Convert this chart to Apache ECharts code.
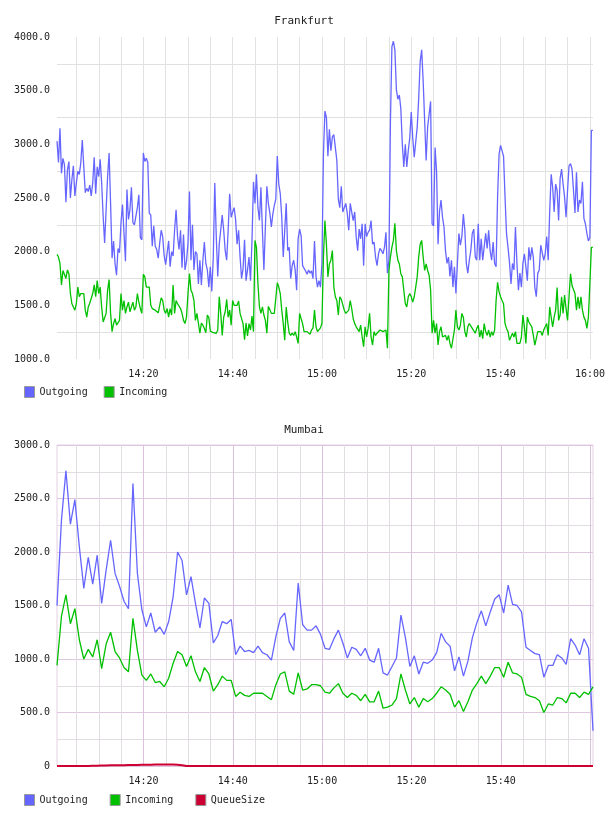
<!DOCTYPE html>
<html>
<head>
<meta charset="utf-8">
<title>Frankfurt / Mumbai</title>
<script src="https://cdn.jsdelivr.net/npm/echarts@6/dist/echarts.min.js"></script>
<style>
html, body { margin: 0; padding: 0; background: #fff; }
#chart { width: 608px; height: 816px; }
</style>
</head>
<body>
<div id="chart"></div>
<script>
// first sample of both charts is 14:00:39, window is two hours
var startClock = [14, 0, 39];
var windowMinutes = 120;
var frankfurtStepSec = 20;
var mumbaiStepSec = 60;

var frankfurtRange = [1000, 4000];
var mumbaiRange = [0, 3000];

var frankfurtOutgoing = [
    3030,2830,3150,2730,2870,2810,2460,2760,2840,2500,
    2670,2800,2520,2640,2750,2720,2830,3040,2790,2550,
    2590,2560,2620,2520,2640,2880,2540,2790,2700,2860,
    2640,2330,2080,2390,2700,2920,2450,1940,2100,1890,
    1780,2030,1990,2270,2440,2450,1910,2580,2300,2390,
    2600,2270,2250,2240,2410,2530,2130,2110,2920,2840,
    2870,2830,2360,2340,2050,2240,2050,2020,1940,2080,
    2200,2140,1960,1880,1880,2100,1860,2000,1960,2200,
    2390,2140,2020,2200,1850,2160,1830,1910,2080,2560,
    1920,2250,1830,2000,1980,1700,1920,1690,1920,2090,
    1890,1830,1670,1860,1630,1950,2640,2140,1770,2070,
    2200,2340,2200,2010,1920,2200,2540,2320,2370,2410,
    2300,2070,2200,1950,1750,1840,2110,1730,1830,1950,
    1730,2100,2650,2450,2720,2410,2290,2600,2200,1830,
    2230,2610,2450,2360,2230,2350,2430,2490,2890,2630,
    2540,2320,1950,2200,2450,2010,2040,1750,1870,1920,
    1830,1640,2120,2210,2150,1870,1870,1820,1790,1830,
    1800,1820,1750,2100,1770,1670,1730,1670,1890,2910,
    3310,3250,2890,3140,2940,3070,3090,2970,2850,2490,
    2410,2610,2370,2370,2450,2360,2200,2450,2460,2290,
    2370,2140,2010,2210,2120,2260,1870,2260,2140,2180,
    2200,2290,2070,2090,1950,1870,1980,2030,2010,1980,
    2040,2180,1800,1920,3200,3910,3960,3880,3510,3420,
    3460,3330,3000,2790,3000,2790,2940,3060,3300,3060,
    2880,3020,3160,3430,3770,3880,3590,3220,2850,3160,
    3280,3400,2260,2240,2970,2750,2070,2380,2480,2320,
    2230,2010,1890,1950,1770,1920,1670,1860,1610,1890,
    2170,2060,2140,2350,2200,1890,1800,1920,2010,2170,
    2210,1950,1920,2260,1920,2120,1920,1920,2170,2030,
    2200,2010,1920,2090,1890,1860,2510,2910,2990,2990,
    2890,2510,2170,2040,1900,1700,1890,1830,2230,1890,
    1640,1800,1670,1890,1980,1860,1730,2040,1920,2040,
    1950,1670,1580,1800,1830,2060,2070,1920,1980,2140,
    1920,2370,2720,2600,2370,2630,2570,2290,2680,2770,
    2630,2510,2320,2570,2800,2820,2770,2570,2360,2740,
    2370,2480,2450,2650,2310,2260,2170,2100,2130,3130,
    3130
];

var frankfurtIncoming = [
    1975,1950,1890,1690,1825,1840,1750,1830,1795,1610,
    1515,1485,1455,1515,1670,1580,1610,1625,1610,1455,
    1390,1485,1520,1530,1610,1690,1580,1730,1610,1670,
    1485,1345,1345,1425,1640,1740,1425,1255,1330,1375,
    1315,1330,1360,1610,1455,1545,1425,1485,1530,1440,
    1485,1530,1455,1485,1610,1530,1470,1425,1790,1765,
    1670,1655,1670,1500,1470,1485,1455,1460,1430,1425,
    1570,1545,1455,1425,1470,1390,1470,1410,1690,1425,
    1545,1515,1515,1470,1425,1360,1330,1390,1610,1795,
    1640,1610,1545,
    1360,1425,1440,1240,1335,1315,1285,1245,1410,1385,
    1260,1270,1245,1255,1240,1270,1580,1425,1220,1390,
    1440,1555,1390,1455,1315,1545,1500,1490,1500,1540,
    1425,1410,1330,1180,1335,1215,1330,1270,1400,1255,
    2105,2040,1700,1485,1425,1485,1410,1360,1240,1490,
    1460,1425,1410,1425,1410,1710,1670,1610,1455,1330,
    1175,1485,1345,1240,1220,1240,1220,1255,1205,1145,
    1425,1375,1330,1255,1240,1255,1255,1230,1270,1290,
    1455,1300,1255,1255,1290,1330,1950,2290,2070,1765,
    1885,
    1920,2010,1670,1580,1545,1410,1580,1555,1540,1455,
    1425,1430,1455,1545,1470,1375,1330,1300,1285,1255,
    1315,1205,1115,1300,1205,1285,1425,1205,1130,1255,
    1220,1240,1255,1270,1275,1255,1240,1270,1100,1825,
    1950,2040,2105,2265,2010,1920,1885,1795,1765,1640,
    1515,1485,1580,1610,1580,1530,1580,1670,1765,1950,
    2070,2105,1950,1825,1885,1825,1780,1640,1240,1360,
    1240,1330,1130,1255,1300,1205,1220,1220,1175,1220,
    1145,1100,1115,1270,1455,1300,1270,1315,1425,1390,
    1255,1205,1300,1330,1345,1285,1270,1240,1285,1315,
    1205,1270,1190,1330,1255,1220,1270,1205,1255,1220,
    1270,1545,1715,1625,1580,1545,1515,1330,1285,1255,
    1175,1180,1240,1205,1255,1145,1130,1145,1205,1410,
    1300,1145,1390,1345,1330,1300,1220,1130,1190,1255,
    1270,1255,1220,1270,1285,1330,1220,1485,1390,1300,
    1390,1455,1665,1360,1410,1580,1425,1595,1470,1360,
    1580,1795,1685,1670,1610,1455,1580,1470,1580,1455,
    1390,1360,1285,1390,1700,2040,2040
];

var mumbaiOutgoing = [
    1500,2300,2760,2260,2490,2050,1660,1950,1700,1970,
    1520,1830,2110,1800,1680,1540,1470,2640,1800,1460,
    1300,1430,1250,1300,1230,1350,1580,2000,1920,1600,
    1770,1520,1290,1570,1520,1150,1220,1350,1330,1370,
    1040,1120,1070,1080,1060,1120,1060,1040,990,1210,
    1380,1430,1160,1080,1710,1320,1270,1270,1310,1230,
    1100,
    1090,1190,1270,1150,1010,1110,1090,1030,1100,990,
    970,1100,870,850,930,1010,1410,1200,930,1030,
    860,970,960,990,1060,1240,1160,1120,890,1020,
    840,980,1200,1340,1450,1310,1440,1560,1600,1430,
    1690,1510,1500,1440,1110,1080,1050,1040,830,940,
    940,1040,1010,950,1190,1130,1040,1190,1100,330
];

var mumbaiIncoming = [
    940,1400,1600,1330,1470,1180,1000,1090,1020,1180,
    910,1140,1250,1070,1010,920,880,1380,1080,850,
    800,860,780,790,740,820,960,1070,1040,930,
    1030,880,790,920,860,700,760,840,800,800,
    650,690,660,650,680,680,680,650,620,760,
    860,880,700,670,870,710,720,760,760,750,
    690,
    680,730,770,680,640,680,660,610,670,600,
    600,700,540,550,570,630,860,710,580,640,
    550,630,600,630,680,740,710,670,550,610,
    510,600,710,770,840,770,840,920,920,830,
    970,870,860,830,670,650,640,610,500,580,
    570,640,630,590,680,680,640,690,670,740
];

var mumbaiQueueSize = [
    0,0,0,0,0,0,0,0,2,3,
    4,5,6,7,8,8,9,10,10,11,
    12,12,13,13,14,14,14,12,6,0,
    0,0,0,0,0,0,0,0,0,0,
    0,0,0,0,0,0,0,0,0,0,
    0,0,0,0,0,0,0,0,0,0,
    0,0,0,0,0,0,0,0,0,0,
    0,0,0,0,0,0,0,0,0,0,
    0,0,0,0,0,0,0,0,0,0,
    0,0,0,0,0,0,0,0,0,0,
    0,0,0,0,0,0,0,0,0,0,
    0,0,0,0,0,0,0,0,0,0,
    0
];

var font = 'DejaVu Sans Mono';
var textColor = '#222';
var blue = '#6666ff', green = '#00c000', red = '#cc0033';
var t0 = new Date(2024, 0, 1, startClock[0], startClock[1], startClock[2]).getTime();
var t1 = t0 + windowMinutes * 60000;

function points(values, stepSec) {
    return values.map(function (v, i) { return [t0 + i * stepSec * 1000, v]; });
}

function pad(n) { return ('0' + n).slice(-2); }

// label only the 20 minute marks
function clockLabel(skipLast) {
    return function (v) {
        var d = new Date(v);
        if (d.getSeconds() !== 0 || d.getMinutes() % 20 !== 0) return '';
        if (skipLast && v > t1 - 60000) return '';
        return pad(d.getHours()) + ':' + pad(d.getMinutes());
    };
}

function valueLabel(v) {
    if (v % 500 !== 0) return '';
    return v === 0 ? '0' : v.toFixed(1);
}

function timeAxis(gridIndex, minutes, lineColor, labels, skipLast) {
    return {
        type: 'time', gridIndex: gridIndex, min: t0, max: t1,
        minInterval: minutes * 66000, maxInterval: minutes * 66000,
        axisLine: { show: false }, axisTick: { show: false },
        axisLabel: {
            show: labels, formatter: clockLabel(skipLast), margin: 10,
            fontFamily: font, fontSize: 10, color: textColor, hideOverlap: false
        },
        // no lines on the window edges, those are not on the clock grid
        splitLine: { show: true, showMinLine: false, showMaxLine: false,
                     lineStyle: { color: lineColor, width: 1 } }
    };
}

function valueAxis(gridIndex, range, colors) {
    return {
        type: 'value', gridIndex: gridIndex, min: range[0], max: range[1], interval: 250,
        axisLine: { show: false }, axisTick: { show: false },
        axisLabel: { formatter: valueLabel, margin: 7, fontFamily: font, fontSize: 10, color: textColor },
        splitLine: { show: true, lineStyle: { color: colors, width: 1 } }
    };
}

function line(name, data, color, x, y, w) {
    return {
        name: name, type: 'line', xAxisIndex: x, yAxisIndex: y, data: data,
        showSymbol: false, symbol: 'none', silent: true,
        lineStyle: { color: color, width: w || 1.3 }, itemStyle: { color: color }
    };
}

var legendText = { fontFamily: font, fontSize: 10, color: textColor };

var chart = echarts.init(document.getElementById('chart'));
chart.setOption({
    animation: false,
    title: [
        { text: 'Frankfurt', left: 'center', top: 16, padding: 0,
          textStyle: { fontFamily: font, fontSize: 11, fontWeight: 'normal', color: textColor } },
        { text: 'Mumbai', left: 'center', top: 425, padding: 0,
          textStyle: { fontFamily: font, fontSize: 11, fontWeight: 'normal', color: textColor } }
    ],
    legend: [
        { data: ['Outgoing', 'Incoming'], left: 24, top: 386, padding: 0, icon: 'rect',
          itemWidth: 10, itemHeight: 11, itemGap: 16, selectedMode: false,
          itemStyle: { borderColor: '#999', borderWidth: 1 }, textStyle: legendText },
        { data: ['Outgoing', 'Incoming', 'QueueSize'], left: 24, top: 794, padding: 0, icon: 'rect',
          itemWidth: 10, itemHeight: 11, itemGap: 22, selectedMode: false,
          itemStyle: { borderColor: '#999', borderWidth: 1 }, textStyle: legendText }
    ],
    grid: [
        { left: 57, top: 37, width: 536, height: 322 },
        { left: 57, top: 445, width: 536, height: 321, show: true,
          borderColor: '#e4d0e4', borderWidth: 1, backgroundColor: 'transparent' }
    ],
    xAxis: [
        timeAxis(0, 5, '#e2e2e2', true, false),
        timeAxis(1, 5, '#e2dde2', true, true),
        timeAxis(1, 20, '#dcc2dc', false, true)
    ],
    yAxis: [
        valueAxis(0, frankfurtRange, ['rgba(0,0,0,0)', '#e0e0e0']),
        valueAxis(1, mumbaiRange, ['#dec6de', '#e2dde2'])
    ],
    series: [
        line('Outgoing', points(frankfurtOutgoing, frankfurtStepSec), blue, 0, 0),
        line('Incoming', points(frankfurtIncoming, frankfurtStepSec), green, 0, 0),
        line('Outgoing', points(mumbaiOutgoing, mumbaiStepSec), blue, 1, 1),
        line('Incoming', points(mumbaiIncoming, mumbaiStepSec), green, 1, 1),
        line('QueueSize', points(mumbaiQueueSize, mumbaiStepSec), red, 1, 1, 2)
    ]
});
</script>
</body>
</html>
